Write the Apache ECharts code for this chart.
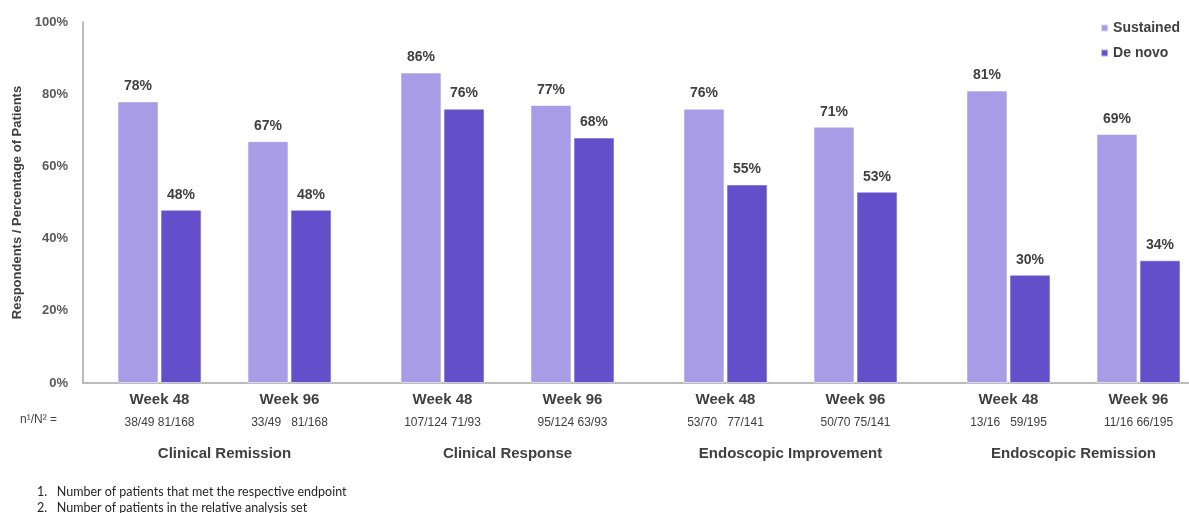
<!DOCTYPE html>
<html>
<head>
<meta charset="utf-8">
<style>
  html, body { margin: 0; padding: 0; background: #ffffff; }
  #chart { width: 1189px; height: 513px; }
</style>
<script src="https://cdn.jsdelivr.net/npm/echarts@6/dist/echarts.min.js"></script>
</head>
<body>
<div id="chart"></div>
<script>
// Endpoints shown along the bottom
const endpoints = ['Clinical Remission', 'Clinical Response', 'Endoscopic Improvement', 'Endoscopic Remission'];
const weeks = ['Week 48', 'Week 96'];

// Percentage of patients reaching each endpoint
const sustained48 = [78, 86, 76, 81];
const deNovo48    = [48, 76, 55, 30];
const sustained96 = [67, 77, 71, 69];
const deNovo96    = [48, 68, 53, 34];

// n / N counts under each week label (Sustained, De novo)
const counts48 = ['38/49 81/168', '107/124 71/93', '53/70   77/141', '13/16   59/195'];
const counts96 = ['33/49   81/168', '95/124 63/93', '50/70 75/141', '11/16 66/195'];

// Y-axis ticks
const yTicks = [0, 20, 40, 60, 80, 100];

const COLOR_SUS = '#A89CE6';
const COLOR_DN = '#634FCA';
const FONT = '"Liberation Sans", Arial, sans-serif';
const NOTE_FONT = '12.5px Lato, "Liberation Sans", sans-serif';
const TXT = '#404040';

const chart = echarts.init(document.getElementById('chart'));

const gridTop = 22, gridH = 361, pitchW = 1132;

function weekAxis(gridIndex, week, counts) {
  return {
    type: 'category', gridIndex: gridIndex, data: endpoints,
    axisLine: { show: false }, axisTick: { show: false },
    axisLabel: {
      margin: 6, interval: 0,
      formatter: (v, i) => '{w|' + week + '}\n{n|' + counts[i] + '}',
      rich: {
        w: { fontFamily: FONT, fontWeight: 'bold', fontSize: 15, color: TXT, lineHeight: 22, align: 'center' },
        n: { fontFamily: FONT, fontSize: 12, color: TXT, lineHeight: 24, align: 'center' }
      }
    }
  };
}

function hiddenY(gridIndex) {
  return { type: 'value', gridIndex: gridIndex, min: yTicks[0], max: yTicks[yTicks.length - 1], interval: 20, show: false };
}

function barSeries(name, data, axisIndex, color) {
  return {
    name: name, type: 'bar', data: data,
    xAxisIndex: axisIndex, yAxisIndex: axisIndex,
    barWidth: 41, barGap: '5%',
    itemStyle: { color: color, borderColor: 'rgba(255,255,255,0.55)', borderWidth: 1 },
    label: {
      show: true, position: 'top', distance: 8,
      formatter: p => p.value + '%',
      fontFamily: FONT, fontWeight: 'bold', fontSize: 14, color: TXT
    }
  };
}

function grid(left) {
  return { left: left, top: gridTop, width: pitchW, height: gridH, outerBoundsMode: 'none', containLabel: false };
}

chart.setOption({
  animation: false,
  backgroundColor: '#ffffff',
  grid: [
    grid(18),    // Week 48 bars
    grid(148),   // Week 96 bars
    grid(83)     // axes and endpoint names
  ],
  legend: {
    data: ['Sustained', 'De novo'],
    orient: 'vertical', right: 4, top: 16,
    itemWidth: 7, itemHeight: 7, itemGap: 11,
    icon: 'rect',
    textStyle: { fontFamily: FONT, fontWeight: 'bold', fontSize: 14, color: TXT }
  },
  xAxis: [
    weekAxis(0, weeks[0], counts48),
    weekAxis(1, weeks[1], counts96),
    {
      type: 'category', gridIndex: 2, data: endpoints,
      axisLine: { show: true, lineStyle: { color: '#A6A6A6', width: 1.5 } },
      axisTick: { show: false },
      axisLabel: {
        margin: 63, interval: 0,
        fontFamily: FONT, fontWeight: 'bold', fontSize: 15, color: TXT
      }
    }
  ],
  yAxis: [
    hiddenY(0),
    hiddenY(1),
    {
      type: 'value', gridIndex: 2, min: yTicks[0], max: yTicks[yTicks.length - 1], interval: 20,
      name: 'Respondents / Percentage of Patients',
      nameLocation: 'middle', nameGap: 59,
      nameTextStyle: { fontFamily: FONT, fontWeight: 'bold', fontSize: 13, color: TXT },
      axisLine: { show: true, lineStyle: { color: '#A6A6A6', width: 1.5 } },
      axisTick: { show: false },
      splitLine: { show: false },
      axisLabel: {
        margin: 15, formatter: '{value}%',
        fontFamily: FONT, fontWeight: 'bold', fontSize: 13, color: '#595959'
      }
    }
  ],
  series: [
    barSeries('Sustained', sustained48, 0, COLOR_SUS),
    barSeries('De novo', deNovo48, 0, COLOR_DN),
    barSeries('Sustained', sustained96, 1, COLOR_SUS),
    barSeries('De novo', deNovo96, 1, COLOR_DN)
  ],
  graphic: [
    {
      type: 'text', left: 20, top: 414,
      style: { text: 'n¹/N² =', font: '12px ' + FONT, fill: TXT }
    },
    {
      type: 'text', left: 37, top: 485,
      style: { text: '1.   Number of patients that met the respective endpoint', font: NOTE_FONT, fill: '#262626' }
    },
    {
      type: 'text', left: 37, top: 501,
      style: { text: '2.   Number of patients in the relative analysis set', font: NOTE_FONT, fill: '#262626' }
    }
  ]
});
</script>
</body>
</html>
